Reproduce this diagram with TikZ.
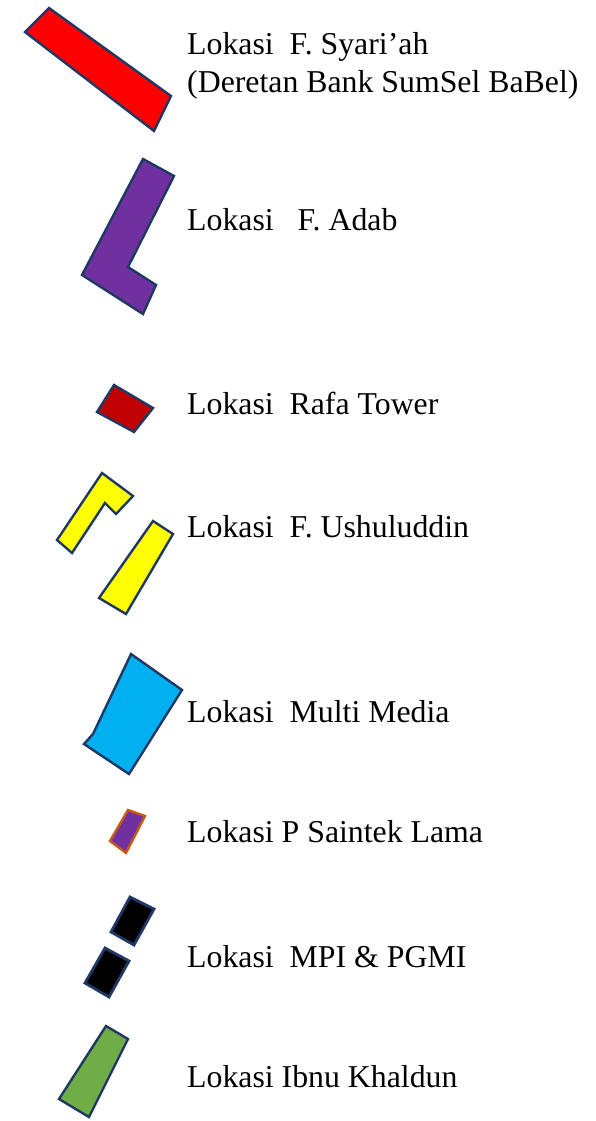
\documentclass[tikz,border=0pt]{standalone}
\usepackage{fontspec}
\setmainfont{Liberation Serif}
\definecolor{cnavy}{HTML}{1F3864}
\definecolor{cred}{HTML}{FF0000}
\definecolor{cpurple}{HTML}{7030A0}
\definecolor{cdarkred}{HTML}{C00000}
\definecolor{cyellow}{HTML}{FFFF00}
\definecolor{cblue}{HTML}{00B0F0}
\definecolor{cgreen}{HTML}{70AD47}
\definecolor{corange}{HTML}{C55A11}
\tikzset{
  every picture/.style={x=1pt, y=-1pt},
  lot/.style={draw=cnavy, fill=#1, line width=2.4pt, line join=miter},
  lot/.default=black,
  label text/.style={anchor=base west, inner sep=0pt, align=left,
    font=\fontsize{31.8}{38}\selectfont},
}
\begin{document}
\begin{tikzpicture}
  \useasboundingbox (0,0) rectangle (595,1121);
  % building lots
  \draw[lot=cred] (49,8) -- (171,96) -- (154,131) -- (25,32) -- cycle;
  \draw[lot=cpurple] (143,159) -- (174,176) -- (128,267) -- (156,285) -- (143,314) -- (82,275) -- cycle;
  \draw[lot=cdarkred] (114,385) -- (153,408) -- (134,432) -- (97,412) -- cycle;
  \draw[lot=cyellow] (102,473) -- (133,496) -- (116,514) -- (105,503) -- (72,553) -- (57,540) -- cycle;
  \draw[lot=cyellow] (153,521) -- (173,534) -- (126,614) -- (99,598) -- cycle;
  \draw[lot=cblue] (131,654) -- (182,690) -- (129,774) -- (84,744) -- (93,734) -- cycle;
  \draw[lot=cpurple, draw=corange] (128,810) -- (145,816) -- (126,853) -- (110,841) -- cycle;
  \draw[lot, line width=2.8pt] (130,897) -- (154,909) -- (134,945) -- (111,932) -- cycle;
  \draw[lot, line width=2.8pt] (105,948) -- (129,961) -- (109,997) -- (85,983) -- cycle;
  \draw[lot=cgreen] (106,1026) -- (128,1039) -- (89,1117) -- (59,1099) -- cycle;
  % labels
  \node[label text] (syariah) at (187,93) {Lokasi\ \ F. Syari’ah\\(Deretan Bank SumSel BaBel)};
  \node[label text] (adab) at (187,230) {Lokasi\ \ \ F. Adab};
  \node[label text] (rafa) at (187,414) {Lokasi\ \ Rafa Tower};
  \node[label text] (ushuluddin) at (187,537) {Lokasi\ \ F. Ushuluddin};
  \node[label text] (multimedia) at (187,722) {Lokasi\ \ Multi Media};
  \node[label text] (saintek) at (187,842) {Lokasi P Saintek Lama};
  \node[label text] (mpi) at (187,967) {Lokasi\ \ MPI \& PGMI};
  \node[label text] (khaldun) at (187,1087) {Lokasi Ibnu Khaldun};
\end{tikzpicture}
\end{document}
